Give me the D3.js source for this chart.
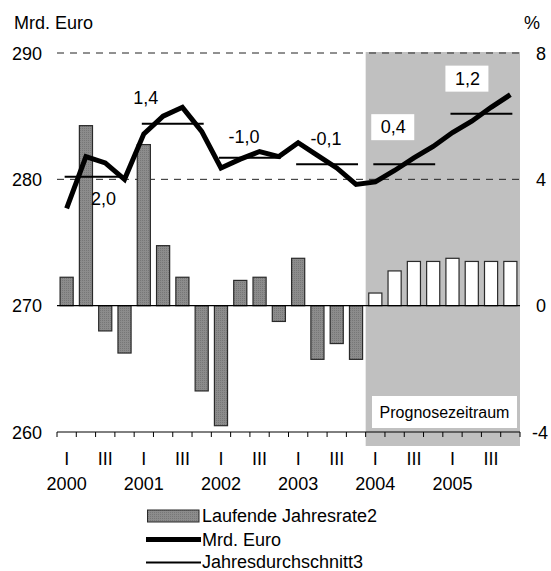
<!DOCTYPE html>
<html>
<head>
<meta charset="utf-8">
<script src="https://cdn.jsdelivr.net/npm/d3@7"></script>
<style>
  body { margin: 0; background: #fff; }
  svg { display: block; font-family: "Liberation Sans", Arial, sans-serif; }
</style>
</head>
<body>
<div id="chart"></div>
<script>
// quarters 2000 Q1 .. 2005 Q4
const years = ["2000", "2001", "2002", "2003", "2004", "2005"];
const quarterNames = ["I", "II", "III", "IV"];
const forecastFrom = "2004";

// laufende Jahresrate (%), right axis
const rate = [0.9, 5.7, -0.8, -1.5, 5.1, 1.9, 0.9, -2.7,
              -3.8, 0.8, 0.9, -0.5, 1.5, -1.7, -1.2, -1.7,
              0.4, 1.1, 1.4, 1.4, 1.5, 1.4, 1.4, 1.4];

// Mrd. Euro, left axis
const level = [277.7, 281.8, 281.3, 280.0, 283.6, 285.0, 285.7, 283.8,
               280.9, 281.6, 282.2, 281.8, 282.9, 281.9, 280.9, 279.6,
               279.8, 280.7, 281.7, 282.6, 283.7, 284.6, 285.7, 286.7];

// Jahresdurchschnitt (Mrd. Euro) and annual change label
const annualAvg = [280.2, 284.4, 281.7, 281.2, 281.2, 285.2];
const annualLabel = ["2,0", "1,4", "-1,0", "-0,1", "0,4", "1,2"];

const leftTicks = [260, 270, 280, 290];
const rightTicks = [-4, 0, 4, 8];

const width = 551, height = 571;
const margin = {top: 53, left: 57, right: 31, bottom: 139};

const quarters = years.flatMap(y => quarterNames.map(q => y + "-" + q));

const svg = d3.select("#chart").append("svg")
    .attr("width", width).attr("height", height);

const defs = svg.append("defs");
const pat = defs.append("pattern")
    .attr("id", "dots").attr("width", 2).attr("height", 2)
    .attr("patternUnits", "userSpaceOnUse");
pat.append("rect").attr("width", 2).attr("height", 2).attr("fill", "#8c8c8c");
pat.append("rect").attr("width", 1).attr("height", 1).attr("fill", "#777");

const x = d3.scaleBand()
    .domain(quarters)
    .range([margin.left, width - margin.right])
    .paddingInner(0.32)
    .paddingOuter(0.16);
const step = x.step();
const cx = q => x(q) + x.bandwidth() / 2;

const yL = d3.scaleLinear().domain([260, 290]).range([height - margin.bottom, margin.top]);
const yR = d3.scaleLinear().domain([-4, 8]).range([height - margin.bottom, margin.top]);

const fontSize = 18;

// forecast shading
const fStart = x(forecastFrom + "-I") - x.paddingOuter() * step;
svg.append("rect")
    .attr("x", fStart)
    .attr("y", margin.top - 1)
    .attr("width", width - margin.right - fStart)
    .attr("height", yL(260) - margin.top + 15)
    .attr("fill", "#c0c0c0");

// dashed grid
svg.append("g").selectAll("line")
    .data([280, 290])
    .join("line")
    .attr("x1", margin.left).attr("x2", width - margin.right)
    .attr("y1", d => yL(d)).attr("y2", d => yL(d))
    .attr("stroke", "#222").attr("stroke-width", 1)
    .attr("stroke-dasharray", "7,6");

// bars
svg.append("g").selectAll("rect")
    .data(quarters)
    .join("rect")
    .attr("x", q => x(q))
    .attr("width", x.bandwidth())
    .attr("y", (q, i) => yR(Math.max(0, rate[i])))
    .attr("height", (q, i) => Math.abs(yR(rate[i]) - yR(0)))
    .attr("fill", q => q >= forecastFrom ? "#fff" : "url(#dots)")
    .attr("stroke", "#2a2a2a")
    .attr("stroke-width", 1.2);

// zero line
svg.append("line")
    .attr("x1", margin.left).attr("x2", width - margin.right)
    .attr("y1", yR(0)).attr("y2", yR(0))
    .attr("stroke", "#000").attr("stroke-width", 1.2);

// bottom axis
const axisY = yL(260);
svg.append("line")
    .attr("x1", margin.left).attr("x2", width - margin.right)
    .attr("y1", axisY).attr("y2", axisY)
    .attr("stroke", "#000").attr("stroke-width", 1);
svg.append("g").selectAll("line")
    .data(d3.range(quarters.length + 1))
    .join("line")
    .attr("x1", i => margin.left + i * step).attr("x2", i => margin.left + i * step)
    .attr("y1", axisY).attr("y2", axisY + 5)
    .attr("stroke", "#000").attr("stroke-width", 1);

// quarter labels I / III
svg.append("g").selectAll("text")
    .data(quarters.filter(q => q.endsWith("-I") || q.endsWith("-III")))
    .join("text")
    .attr("x", cx).attr("y", 465)
    .attr("text-anchor", "middle").attr("font-size", fontSize)
    .text(q => q.split("-")[1]);

svg.append("g").selectAll("text")
    .data(years)
    .join("text")
    .attr("x", y => cx(y + "-I")).attr("y", 490)
    .attr("text-anchor", "middle").attr("font-size", fontSize)
    .text(y => y);

// y tick labels
svg.append("g").selectAll("text")
    .data(leftTicks)
    .join("text")
    .attr("x", 42).attr("y", d => yL(d) + 6.5)
    .attr("text-anchor", "end").attr("font-size", fontSize)
    .text(d => d);
svg.append("g").selectAll("text")
    .data(rightTicks)
    .join("text")
    .attr("x", d => d < 0 ? 532 : 536).attr("y", d => yR(d) + 6.5)
    .attr("font-size", fontSize)
    .text(d => d);

svg.append("text").attr("x", 14).attr("y", 29).attr("font-size", fontSize).text("Mrd. Euro");
svg.append("text").attr("x", 524).attr("y", 29).attr("font-size", fontSize).text("%");

// annual averages
svg.append("g").selectAll("line")
    .data(years)
    .join("line")
    .attr("x1", y => cx(y + "-I") - 2).attr("x2", y => cx(y + "-IV") + 2)
    .attr("y1", (y, i) => yL(annualAvg[i])).attr("y2", (y, i) => yL(annualAvg[i]))
    .attr("stroke", "#000").attr("stroke-width", 2);

// level line
svg.append("path")
    .datum(quarters)
    .attr("fill", "none")
    .attr("stroke", "#000")
    .attr("stroke-width", 5)
    .attr("stroke-linejoin", "miter")
    .attr("d", d3.line().x(cx).y((q, i) => yL(level[i])));

// annual change labels (nudges relative to the average segment)
const labelNudge = [[8, 28], [-27, -20], [-6, -15], [-1, -19], [-11, -31], [-14, -29]];
const lab = svg.append("g").selectAll("g")
    .data(years)
    .join("g")
    .attr("transform", (y, i) => {
        const mx = (cx(y + "-I") + cx(y + "-IV")) / 2 + labelNudge[i][0];
        return `translate(${mx},${yL(annualAvg[i]) + labelNudge[i][1]})`;
    });
lab.filter(y => y >= forecastFrom)
    .append("rect")
    .attr("x", -22).attr("y", -19).attr("width", 43).attr("height", 26)
    .attr("fill", "#fff");
lab.append("text")
    .attr("text-anchor", "middle").attr("font-size", fontSize)
    .text((y, i) => annualLabel[i]);

// Prognosezeitraum box
svg.append("rect")
    .attr("x", 372).attr("y", 396).attr("width", 145).attr("height", 32)
    .attr("fill", "#fff");
svg.append("text")
    .attr("x", 444.5).attr("y", 418)
    .attr("text-anchor", "middle").attr("font-size", 16)
    .text("Prognosezeitraum");

// legend
const lg = svg.append("g").attr("font-size", fontSize);
lg.append("rect").attr("x", 147.5).attr("y", 510).attr("width", 51.5).attr("height", 12)
    .attr("fill", "url(#dots)").attr("stroke", "#2a2a2a").attr("stroke-width", 1);
lg.append("text").attr("x", 202).attr("y", 522).text("Laufende Jahresrate2");
lg.append("line").attr("x1", 146).attr("x2", 201).attr("y1", 539.5).attr("y2", 539.5)
    .attr("stroke", "#000").attr("stroke-width", 5);
lg.append("text").attr("x", 202).attr("y", 546).text("Mrd. Euro");
lg.append("line").attr("x1", 146).attr("x2", 201).attr("y1", 562.5).attr("y2", 562.5)
    .attr("stroke", "#000").attr("stroke-width", 2);
lg.append("text").attr("x", 202).attr("y", 568).text("Jahresdurchschnitt3");
</script>
</body>
</html>
